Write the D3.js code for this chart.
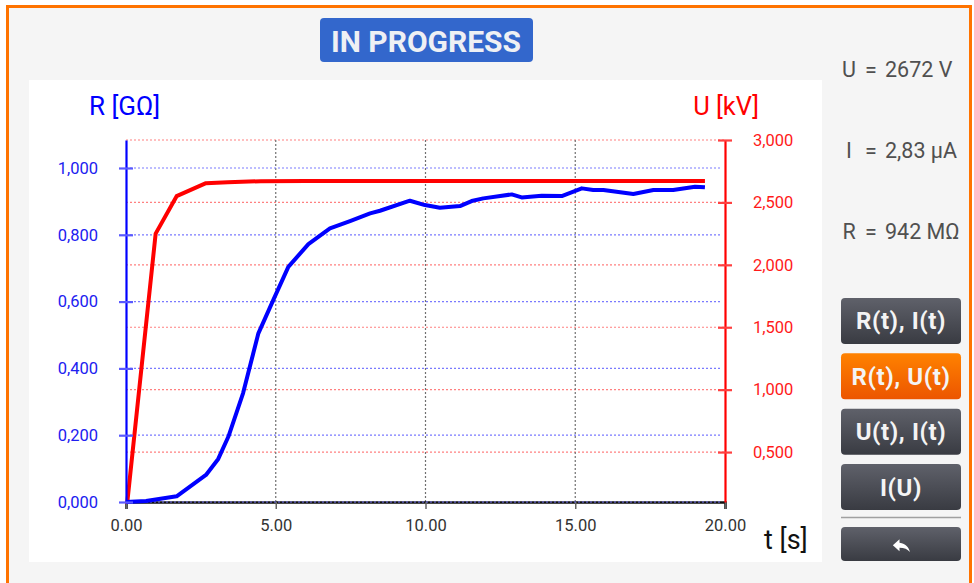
<!DOCTYPE html>
<html>
<head>
<meta charset="utf-8">
<script src="https://cdn.jsdelivr.net/npm/d3@7"></script>
<style>
  html, body { margin: 0; padding: 0; background: #ffffff; }
  svg { display: block; font-family: Roboto, "Noto Sans", sans-serif; }
</style>
</head>
<body>
<svg id="screen" width="974" height="583"></svg>
<script>
// Insulation test trace: resistance R(t) in GΩ and test voltage U(t) in kV
const timeR = [0, 0.67, 1.69, 2.67, 3.08, 3.42, 3.91, 4.42, 4.92, 5.42, 6.09, 6.81, 7.48, 8.15, 8.48,
  9.48, 9.98, 10.48, 11.15, 11.54, 11.93, 12.88, 13.21, 13.88, 14.55, 15.22, 15.60, 15.94, 16.94,
  17.61, 18.27, 19.00, 19.33];
const resistance = [0, 0.003, 0.017, 0.081, 0.129, 0.196, 0.326, 0.505, 0.605, 0.704, 0.772, 0.819,
  0.841, 0.864, 0.872, 0.902, 0.889, 0.881, 0.886, 0.901, 0.909, 0.921, 0.912, 0.917, 0.916, 0.939,
  0.934, 0.934, 0.922, 0.934, 0.934, 0.944, 0.942];

const timeU = [0, 0.99, 1.69, 2.67, 3.40, 4.50, 6.00, 7.50, 9.00, 10.50, 12.00, 13.50, 15.00,
  16.50, 18.00, 19.33];
const voltage = [0, 2.25, 2.55, 2.654, 2.662, 2.670, 2.672, 2.672, 2.672, 2.672, 2.672, 2.672,
  2.672, 2.672, 2.672, 2.672];

const tTicks = [0, 5, 10, 15, 20];
const rTicks = [0, 0.2, 0.4, 0.6, 0.8, 1.0];
const uTicks = [0.5, 1.0, 1.5, 2.0, 2.5, 3.0];

const readings = [
  { label: "U", value: "2672 V" },
  { label: "I", value: "2,83 µA" },
  { label: "R", value: "942 MΩ" }
];
const buttons = ["R(t), I(t)", "R(t), U(t)", "U(t), I(t)", "I(U)"];
const activeButton = "R(t), U(t)";

const svg = d3.select("#screen");

// ---- frame ----
svg.append("rect").attr("x", 7.5).attr("y", 6.5).attr("width", 963).attr("height", 590)
  .attr("fill", "#f5f5f5").attr("stroke", "#ff7300").attr("stroke-width", 3);

// chart panel
svg.append("rect").attr("x", 29).attr("y", 80).attr("width", 793).attr("height", 482).attr("fill", "#ffffff");

// status badge
const badge = svg.append("g");
badge.append("rect").attr("x", 320).attr("y", 18).attr("width", 213).attr("height", 44).attr("rx", 4)
  .attr("fill", "#3367cc");
badge.append("text").attr("x", 426).attr("y", 51.5).attr("text-anchor", "middle")
  .attr("fill", "#eef0f4").attr("font-size", 30).attr("font-weight", 700).text("IN PROGRESS");

// ---- plot ----
const plot = { left: 126, right: 725, top: 140, bottom: 502 };
const x = d3.scaleLinear().domain([0, 20]).range([plot.left, plot.right]);
const yR = d3.scaleLinear().domain([0, 1.0838]).range([plot.bottom, plot.top]);
const yU = d3.scaleLinear().domain([0.1, 3.0]).range([plot.bottom, plot.top]);
const fmt3 = v => d3.format(".3f")(v).replace(".", ",");

const grid = svg.append("g");
// red (voltage) grid
grid.selectAll("line.ug").data(uTicks).join("line")
  .attr("x1", plot.left).attr("x2", plot.right)
  .attr("y1", d => yU(d)).attr("y2", d => yU(d))
  .attr("stroke", "#ff8080").attr("stroke-width", 1.2).attr("stroke-dasharray", "2,2");
// vertical time grid
grid.selectAll("line.tg").data(tTicks.slice(1, -1)).join("line")
  .attr("x1", d => x(d)).attr("x2", d => x(d))
  .attr("y1", plot.top).attr("y2", plot.bottom)
  .attr("stroke", "#707070").attr("stroke-width", 1.2).attr("stroke-dasharray", "2,2");

// x axis
const xAxis = svg.append("g").attr("transform", `translate(0,${plot.bottom})`)
  .call(d3.axisBottom(x).tickValues(tTicks).tickFormat(d3.format(".2f")).tickSize(7).tickPadding(10));
xAxis.select(".domain").attr("stroke", "#111").attr("stroke-width", 2.5);
xAxis.selectAll(".tick line").attr("stroke", "#666").attr("stroke-width", 1.5);
xAxis.selectAll(".tick text").attr("fill", "#333").attr("font-size", 16.5).attr("font-family", "Roboto");

// blue (resistance) grid, drawn over the x axis
svg.append("g").selectAll("line").data(rTicks).join("line")
  .attr("x1", plot.left).attr("x2", plot.right - 3)
  .attr("y1", d => yR(d)).attr("y2", d => yR(d))
  .attr("stroke", "#7a7aff").attr("stroke-width", 1.2).attr("stroke-dasharray", "2,2");

// traces
svg.append("clipPath").attr("id", "plotClip").append("rect")
  .attr("x", plot.left - 4).attr("y", plot.top - 4)
  .attr("width", plot.right - plot.left + 8).attr("height", plot.bottom - plot.top + 6);

const traces = svg.append("g").attr("clip-path", "url(#plotClip)");
traces.append("path")
  .datum(d3.zip(timeU, voltage))
  .attr("fill", "none").attr("stroke", "#ff0000").attr("stroke-width", 4)
  .attr("stroke-linejoin", "round")
  .attr("d", d3.line().x(d => x(d[0])).y(d => yU(d[1])));
traces.append("path")
  .datum(d3.zip(timeR, resistance))
  .attr("fill", "none").attr("stroke", "#0000ff").attr("stroke-width", 4)
  .attr("stroke-linejoin", "round")
  .attr("d", d3.line().x(d => x(d[0])).y(d => yR(d[1])));

// left R axis
const rAxis = svg.append("g").attr("transform", `translate(${plot.left},0)`)
  .call(d3.axisLeft(yR).tickValues(rTicks).tickFormat(fmt3).tickSizeInner(7).tickSizeOuter(0).tickPadding(21));
rAxis.select(".domain").attr("stroke", "#0000ff").attr("stroke-width", 2.2);
rAxis.selectAll(".tick line").attr("x2", -7).attr("x1", 7).attr("stroke", "#5a5aff").attr("stroke-width", 2.2);
rAxis.selectAll(".tick text").attr("fill", "#2020f0").attr("font-size", 16.5).attr("font-family", "Roboto");

// right U axis
const uAxis = svg.append("g").attr("transform", `translate(${plot.right},0)`)
  .call(d3.axisRight(yU).tickValues(uTicks).tickFormat(fmt3).tickSizeInner(7).tickSizeOuter(0).tickPadding(21));
uAxis.select(".domain").attr("stroke", "#ff0000").attr("stroke-width", 2.2);
uAxis.selectAll(".tick line").attr("x1", -7).attr("x2", 7).attr("stroke", "#ff4040").attr("stroke-width", 2.2);
uAxis.selectAll(".tick text").attr("fill", "#ff1a1a").attr("font-size", 16.5).attr("font-family", "Roboto");

// axis titles
svg.append("text").attr("x", 89).attr("y", 115).attr("fill", "#0000ff").attr("font-size", 26).text("R [GΩ]");
svg.append("text").attr("x", 759).attr("y", 115).attr("text-anchor", "end").attr("fill", "#ff0000")
  .attr("font-size", 25.5).text("U [kV]");
svg.append("text").attr("x", 764).attr("y", 549).attr("fill", "#111").attr("font-size", 27).text("t [s]");

// ---- live readings ----
const readY = d3.scalePoint().domain(readings.map(d => d.label)).range([77, 239]);
const rd = svg.append("g").attr("fill", "#505050").attr("font-size", 21.5);
readings.forEach(r => {
  rd.append("text").attr("x", 849).attr("y", readY(r.label)).attr("text-anchor", "middle").text(r.label);
  rd.append("text").attr("x", 871).attr("y", readY(r.label)).attr("text-anchor", "middle").text("=");
  rd.append("text").attr("x", 885).attr("y", readY(r.label)).text(r.value);
});

// ---- view buttons ----
const defs = svg.append("defs");
const gDark = defs.append("linearGradient").attr("id", "btnDark").attr("x1", 0).attr("x2", 0).attr("y1", 0).attr("y2", 1);
gDark.append("stop").attr("offset", "0%").attr("stop-color", "#5f616a");
gDark.append("stop").attr("offset", "100%").attr("stop-color", "#393b42");
const gOrange = defs.append("linearGradient").attr("id", "btnOrange").attr("x1", 0).attr("x2", 0).attr("y1", 0).attr("y2", 1);
gOrange.append("stop").attr("offset", "0%").attr("stop-color", "#ff8200");
gOrange.append("stop").attr("offset", "100%").attr("stop-color", "#ec5500");

const btnY = d3.scaleBand().domain(buttons).range([298, 510]).paddingInner(0.17);
const btn = svg.append("g").selectAll("g").data(buttons).join("g")
  .attr("transform", d => `translate(841,${btnY(d)})`);
btn.append("rect").attr("width", 120).attr("height", btnY.bandwidth()).attr("rx", 4)
  .attr("fill", d => d === activeButton ? "url(#btnOrange)" : "url(#btnDark)");
btn.append("text").attr("x", 60).attr("y", btnY.bandwidth() / 2 + 8.5).attr("text-anchor", "middle")
  .attr("fill", "#f4f4f4").attr("font-size", 24).attr("font-weight", 700).attr("letter-spacing", 0.6)
  .text(d => d);

svg.append("line").attr("x1", 841).attr("x2", 961).attr("y1", 517.5).attr("y2", 517.5)
  .attr("stroke", "#a0a0a0").attr("stroke-width", 1.5);

const back = svg.append("g").attr("transform", "translate(841,527)");
back.append("rect").attr("width", 120).attr("height", 34).attr("rx", 4).attr("fill", "url(#btnDark)");
back.append("path").attr("transform", "translate(49,8) scale(0.95,0.85)")
  .attr("d", "M10 9V5l-7 7 7 7v-4.1c5 0 8.5 1.6 11 5.1-1-5-4-10-11-11z")
  .attr("fill", "#ffffff");
</script>
</body>
</html>
